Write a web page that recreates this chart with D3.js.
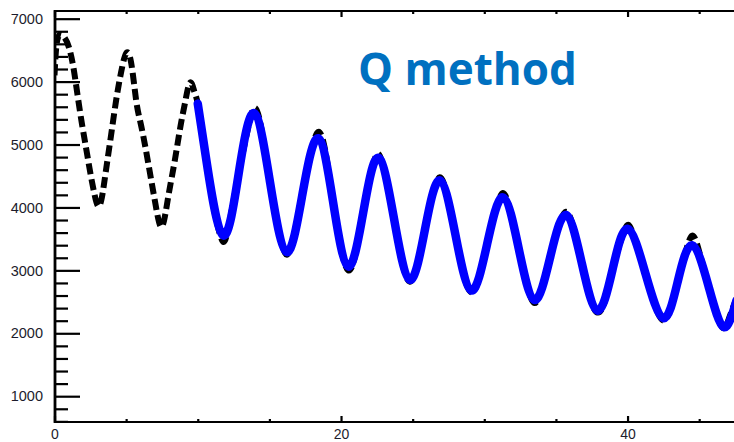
<!DOCTYPE html>
<html><head><meta charset="utf-8">
<script src="https://cdn.jsdelivr.net/npm/d3@7"></script>
<style>body{margin:0;background:#fff}svg{display:block}</style>
</head><body>
<script>
// measured data (black points)
const dataT = [0.0,0.15,0.4,0.7,1.0,1.3,1.6,1.9,2.2,2.5,2.8,3.05,3.3,3.6,3.95,4.3,4.65,5.0,5.35,5.7,6.0,6.35,6.7,7.05,7.4,7.7,8.0,8.4,8.8,9.1,9.45,9.75,10.0,
 10.3,10.6,11.0,11.4,11.8,12.2,12.85,13.5,13.95,14.4,15.05,15.7,16.2,16.7,17.3,17.9,18.4,18.9,19.45,20.0,20.5,21.0,21.55,22.1,22.6,23.1,23.7,24.3,24.8,25.3,25.85,26.4,26.9,27.4,28.0,28.6,29.1,29.6,30.2,30.8,31.3,31.8,32.4,33.0,33.5,34.0,34.6,35.2,35.7,36.2,36.8,37.4,37.9,38.4,38.95,39.5,40.0,40.5,41.25,41.9,42.5,43.0,43.5,44.0,44.5,45.0,45.65,46.2,46.7,47.1,47.6];
const dataV = [6100,6600,6750,6700,6550,6250,5800,5350,4950,4550,4200,4020,4150,4600,5150,5700,6150,6450,6300,5700,5350,4950,4500,4050,3700,3850,4250,4750,5300,5650,5980,5850,5650,
 5200,4750,4150,3700,3450,3750,4530,5250,5580,5300,4400,3600,3250,3550,4200,4850,5200,4900,4080,3350,3000,3250,3920,4550,4850,4500,3820,3100,2820,3050,3640,4200,4480,4200,3550,2900,2650,2850,3420,3950,4230,3950,3350,2750,2480,2700,3210,3700,3930,3700,3120,2550,2330,2500,3010,3450,3720,3500,2950,2450,2200,2400,2820,3250,3550,3300,2750,2300,2080,2250,2550];
// fitted curve (blue)
const fitT = [10.0,10.6,11.75,12.85,13.93,15.05,16.2,17.3,18.4,19.45,20.5,21.55,22.6,23.7,24.8,25.85,26.9,28.0,29.1,30.2,31.3,32.4,33.5,34.6,35.7,36.8,37.9,38.95,40.0,41.25,42.5,43.5,44.5,45.65,46.7,47.6];
const fitV = [5650,4750,3560,4530,5500,4395,3290,4200,5100,4080,3060,3920,4790,3820,2850,3640,4430,3550,2680,3420,4160,3350,2530,3210,3880,3120,2360,3010,3660,2950,2240,2820,3400,2750,2100,2520];
const xMajor = [0,20,40];
const xLabels = ["0","20","40"];
const yMajor = [1000,2000,3000,4000,5000,6000,7000];
const yLabels = ["1000","2000","3000","4000","5000","6000","7000"];
const title = "Q method";

const W=734,H=442;
const svg=d3.select("body").append("svg").attr("width",W).attr("height",H);
svg.append("rect").attr("width",W).attr("height",H).attr("fill","#fff");
const x=d3.scaleLinear().domain([0,47.43]).range([54.5,734]);
const y=d3.scaleLinear().domain([590,7122]).range([422,11]);

svg.append("clipPath").attr("id","c").append("rect").attr("x",55).attr("y",11).attr("width",W-55).attr("height",411);
const g=svg.append("g").attr("clip-path","url(#c)");
const pts=dataT.map((t,i)=>[t,dataV[i]]);
const fit=fitT.map((t,i)=>[t,fitV[i]]);
const line=d3.line().x(d=>x(d[0])).y(d=>y(d[1])).curve(d3.curveNatural);
g.append("path").attr("d",line(pts)).attr("fill","none").attr("stroke","#000").attr("stroke-width",6).attr("stroke-dasharray","11 5");
g.append("path").attr("d",line(fit)).attr("fill","none").attr("stroke","#0000ff").attr("stroke-width",8.5).attr("stroke-linecap","round");

const lblFont="'Liberation Sans',Arial,sans-serif";
// y axis
const yMinor=d3.range(600,7001,200).filter(v=>v%1000!==0);
svg.append("g").attr("transform","translate(55,0)").call(d3.axisRight(y).tickValues(yMinor).tickSize(13).tickFormat(""))
  .call(s=>{s.select(".domain").remove();s.selectAll("line").attr("stroke","#000").attr("stroke-width",2.2);});
svg.append("g").attr("transform","translate(55,0)").call(d3.axisRight(y).tickValues(yMajor).tickSize(25).tickFormat(""))
  .call(s=>{s.select(".domain").remove();s.selectAll("line").attr("stroke","#000").attr("stroke-width",2.2);});
svg.append("g").attr("transform","translate(55,0)").call(d3.axisLeft(y).tickValues(yMajor).tickSize(0).tickPadding(12).tickFormat((d,i)=>yLabels[i]))
  .call(s=>{s.select(".domain").remove();s.selectAll("text").attr("font-family",lblFont).attr("font-size",14.5).attr("fill","#1c1c2c");});
// x axes
const xMinor=d3.range(5,48,5).filter(v=>v%20!==0);
[[422,-1],[11,1]].forEach(([yy,dir])=>{
  svg.append("g").attr("transform",`translate(0,${yy})`).call((dir<0?d3.axisTop(x):d3.axisBottom(x)).tickValues(xMinor).tickSize(3).tickFormat(""))
    .call(s=>{s.select(".domain").remove();s.selectAll("line").attr("stroke","#000").attr("stroke-width",2.2);});
  svg.append("g").attr("transform",`translate(0,${yy})`).call((dir<0?d3.axisTop(x):d3.axisBottom(x)).tickValues(xMajor).tickSize(6).tickFormat(""))
    .call(s=>{s.select(".domain").remove();s.selectAll("line").attr("stroke","#000").attr("stroke-width",2.2);});
});
svg.append("g").attr("transform","translate(0,422)").call(d3.axisBottom(x).tickValues(xMajor).tickSize(0).tickPadding(7).tickFormat((d,i)=>xLabels[i]))
  .call(s=>{s.select(".domain").remove();s.selectAll("text").attr("font-family",lblFont).attr("font-size",14).attr("fill","#1c1c2c");});
// frame lines
svg.append("line").attr("x1",55).attr("x2",55).attr("y1",10).attr("y2",423).attr("stroke","#000").attr("stroke-width",2.8);
svg.append("line").attr("x1",54).attr("x2",W).attr("y1",422).attr("y2",422).attr("stroke","#000").attr("stroke-width",2.2);
svg.append("line").attr("x1",54).attr("x2",W).attr("y1",11).attr("y2",11).attr("stroke","#000").attr("stroke-width",2.2);

svg.append("text").attr("x",358).attr("y",85).text(title)
  .attr("font-family","'Open Sans',sans-serif").attr("font-weight","bold").attr("font-size",44).attr("fill","#0070c0");
</script>
</body></html>
